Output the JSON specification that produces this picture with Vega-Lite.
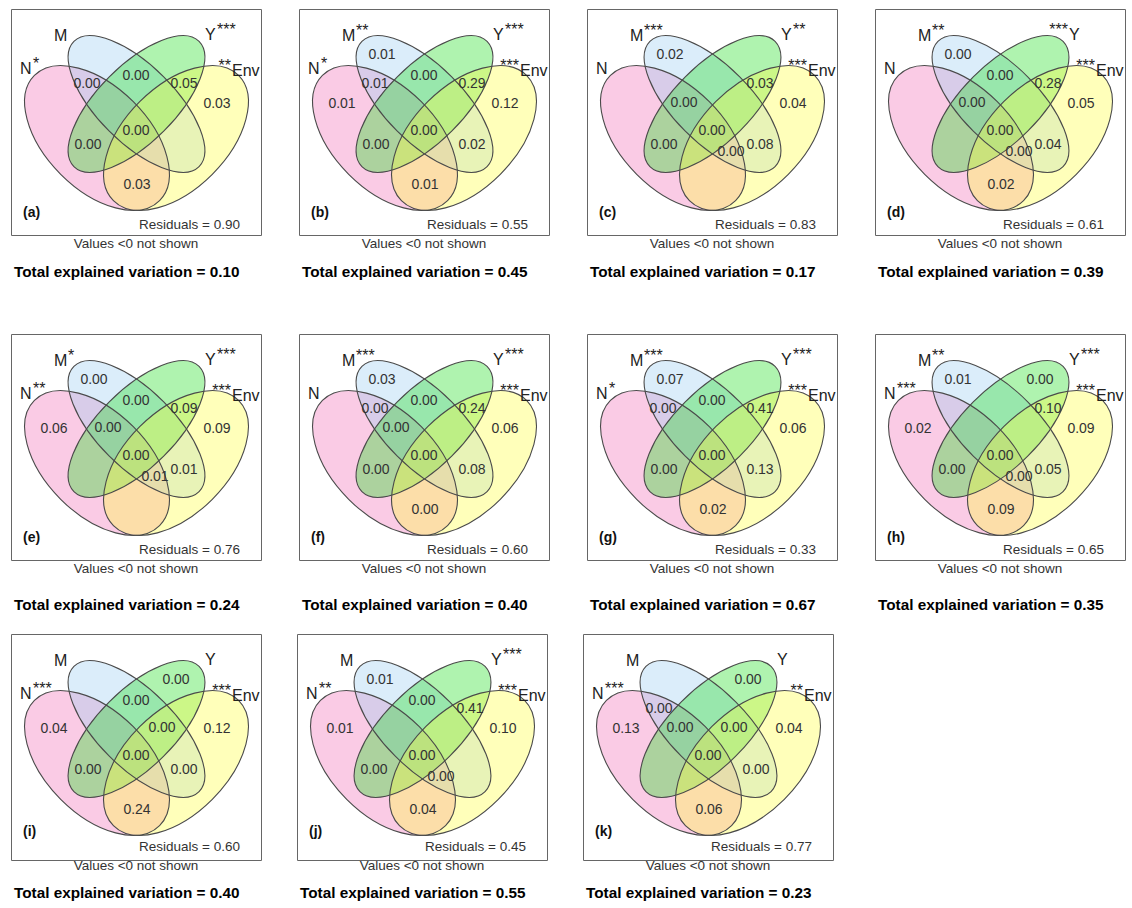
{
"$schema": "https://vega.github.io/schema/vega-lite/v6.json",
"padding": {"left": 10, "top": 8, "right": 0, "bottom": 0},
"autosize": {"type": "pad"},
"background": "white",
"config": {"view": {"stroke": "#666666", "strokeWidth": 1}, "axis": {"disable": true}, "font": "Liberation Sans", "text": {"font": "Liberation Sans"}},
"datasets": {
"regionLayout": [
{"region":"N","x":43,"y":95},{"region":"M","x":83,"y":46},{"region":"Y","x":165,"y":46},{"region":"Env","x":206,"y":95},
{"region":"N&M","x":76,"y":75},{"region":"M&Y","x":125,"y":67},{"region":"Y&Env","x":173,"y":75},{"region":"N&Y","x":77,"y":136},
{"region":"M&Env","x":173,"y":136},{"region":"N&Env","x":126,"y":176},{"region":"N&M&Y","x":97,"y":94},{"region":"M&Y&Env","x":151,"y":94},
{"region":"N&M&Env","x":144,"y":143},{"region":"N&Y&Env","x":107,"y":143},{"region":"N&M&Y&Env","x":125,"y":122}],
"setLayout": [
{"set":"N","x":86,"y":129,"lx0":9,"lx1":21,"ly":65},
{"set":"M","x":125.5,"y":95,"lx0":43,"lx1":56,"ly":32},
{"set":"Y","x":125.5,"y":95,"lx0":194,"lx1":205,"ly":31},
{"set":"Env","x":165,"y":129,"lx0":221,"lx1":249,"ly":67}],
"textLayout": [
{"kind":"tag","x":12,"y":204},{"kind":"resid","x":229,"y":216},{"kind":"note","x":125,"y":235},{"kind":"total","x":3,"y":265}],
"rows": [
{"panel":"a","kind":"set","set":"N","stars":"*","side":"post"},
{"panel":"a","kind":"set","set":"M","stars":"","side":"post"},
{"panel":"a","kind":"set","set":"Y","stars":"***","side":"post"},
{"panel":"a","kind":"set","set":"Env","stars":"**","side":"pre"},
{"panel":"b","kind":"set","set":"N","stars":"*","side":"post"},
{"panel":"b","kind":"set","set":"M","stars":"**","side":"post"},
{"panel":"b","kind":"set","set":"Y","stars":"***","side":"post"},
{"panel":"b","kind":"set","set":"Env","stars":"***","side":"pre"},
{"panel":"c","kind":"set","set":"N","stars":"","side":"post"},
{"panel":"c","kind":"set","set":"M","stars":"***","side":"post"},
{"panel":"c","kind":"set","set":"Y","stars":"**","side":"post"},
{"panel":"c","kind":"set","set":"Env","stars":"***","side":"pre"},
{"panel":"d","kind":"set","set":"N","stars":"","side":"post"},
{"panel":"d","kind":"set","set":"M","stars":"**","side":"post"},
{"panel":"d","kind":"set","set":"Y","stars":"***","side":"pre"},
{"panel":"d","kind":"set","set":"Env","stars":"***","side":"pre"},
{"panel":"e","kind":"set","set":"N","stars":"**","side":"post"},
{"panel":"e","kind":"set","set":"M","stars":"*","side":"post"},
{"panel":"e","kind":"set","set":"Y","stars":"***","side":"post"},
{"panel":"e","kind":"set","set":"Env","stars":"***","side":"pre"},
{"panel":"f","kind":"set","set":"N","stars":"","side":"post"},
{"panel":"f","kind":"set","set":"M","stars":"***","side":"post"},
{"panel":"f","kind":"set","set":"Y","stars":"***","side":"post"},
{"panel":"f","kind":"set","set":"Env","stars":"***","side":"pre"},
{"panel":"g","kind":"set","set":"N","stars":"*","side":"post"},
{"panel":"g","kind":"set","set":"M","stars":"***","side":"post"},
{"panel":"g","kind":"set","set":"Y","stars":"***","side":"post"},
{"panel":"g","kind":"set","set":"Env","stars":"***","side":"pre"},
{"panel":"h","kind":"set","set":"N","stars":"***","side":"post"},
{"panel":"h","kind":"set","set":"M","stars":"**","side":"post"},
{"panel":"h","kind":"set","set":"Y","stars":"***","side":"post"},
{"panel":"h","kind":"set","set":"Env","stars":"***","side":"pre"},
{"panel":"i","kind":"set","set":"N","stars":"***","side":"post"},
{"panel":"i","kind":"set","set":"M","stars":"","side":"post"},
{"panel":"i","kind":"set","set":"Y","stars":"","side":"post"},
{"panel":"i","kind":"set","set":"Env","stars":"***","side":"pre"},
{"panel":"j","kind":"set","set":"N","stars":"**","side":"post"},
{"panel":"j","kind":"set","set":"M","stars":"","side":"post"},
{"panel":"j","kind":"set","set":"Y","stars":"***","side":"post"},
{"panel":"j","kind":"set","set":"Env","stars":"***","side":"pre"},
{"panel":"k","kind":"set","set":"N","stars":"***","side":"post"},
{"panel":"k","kind":"set","set":"M","stars":"","side":"post"},
{"panel":"k","kind":"set","set":"Y","stars":"","side":"post"},
{"panel":"k","kind":"set","set":"Env","stars":"**","side":"pre"},

{"panel":"a","kind":"part","region":"N&M","value":0.00},
{"panel":"a","kind":"part","region":"M&Y","value":0.00},
{"panel":"a","kind":"part","region":"Y&Env","value":0.05},
{"panel":"a","kind":"part","region":"Env","value":0.03},
{"panel":"a","kind":"part","region":"N&M&Y&Env","value":0.00},
{"panel":"a","kind":"part","region":"N&Y","value":0.00},
{"panel":"a","kind":"part","region":"N&Env","value":0.03},

{"panel":"b","kind":"part","region":"M","value":0.01},
{"panel":"b","kind":"part","region":"N","value":0.01},
{"panel":"b","kind":"part","region":"N&M","value":0.01},
{"panel":"b","kind":"part","region":"M&Y","value":0.00},
{"panel":"b","kind":"part","region":"Y&Env","value":0.29},
{"panel":"b","kind":"part","region":"Env","value":0.12},
{"panel":"b","kind":"part","region":"N&M&Y&Env","value":0.00},
{"panel":"b","kind":"part","region":"N&Y","value":0.00},
{"panel":"b","kind":"part","region":"M&Env","value":0.02},
{"panel":"b","kind":"part","region":"N&Env","value":0.01},

{"panel":"c","kind":"part","region":"M","value":0.02},
{"panel":"c","kind":"part","region":"Y&Env","value":0.03},
{"panel":"c","kind":"part","region":"N&M&Y","value":0.00},
{"panel":"c","kind":"part","region":"Env","value":0.04},
{"panel":"c","kind":"part","region":"N&M&Y&Env","value":0.00},
{"panel":"c","kind":"part","region":"N&Y","value":0.00},
{"panel":"c","kind":"part","region":"N&M&Env","value":0.00},
{"panel":"c","kind":"part","region":"M&Env","value":0.08},

{"panel":"d","kind":"part","region":"M","value":0.00},
{"panel":"d","kind":"part","region":"M&Y","value":0.00},
{"panel":"d","kind":"part","region":"Y&Env","value":0.28},
{"panel":"d","kind":"part","region":"N&M&Y","value":0.00},
{"panel":"d","kind":"part","region":"Env","value":0.05},
{"panel":"d","kind":"part","region":"N&M&Y&Env","value":0.00},
{"panel":"d","kind":"part","region":"N&M&Env","value":0.00},
{"panel":"d","kind":"part","region":"M&Env","value":0.04},
{"panel":"d","kind":"part","region":"N&Env","value":0.02},

{"panel":"e","kind":"part","region":"M","value":0.00},
{"panel":"e","kind":"part","region":"N","value":0.06},
{"panel":"e","kind":"part","region":"M&Y","value":0.00},
{"panel":"e","kind":"part","region":"Y&Env","value":0.09},
{"panel":"e","kind":"part","region":"N&M&Y","value":0.00},
{"panel":"e","kind":"part","region":"Env","value":0.09},
{"panel":"e","kind":"part","region":"N&M&Y&Env","value":0.00},
{"panel":"e","kind":"part","region":"N&M&Env","value":0.01},
{"panel":"e","kind":"part","region":"M&Env","value":0.01},

{"panel":"f","kind":"part","region":"M","value":0.03},
{"panel":"f","kind":"part","region":"N&M","value":0.00},
{"panel":"f","kind":"part","region":"M&Y","value":0.00},
{"panel":"f","kind":"part","region":"Y&Env","value":0.24},
{"panel":"f","kind":"part","region":"N&M&Y","value":0.00},
{"panel":"f","kind":"part","region":"Env","value":0.06},
{"panel":"f","kind":"part","region":"N&M&Y&Env","value":0.00},
{"panel":"f","kind":"part","region":"N&Y","value":0.00},
{"panel":"f","kind":"part","region":"M&Env","value":0.08},
{"panel":"f","kind":"part","region":"N&Env","value":0.00},

{"panel":"g","kind":"part","region":"M","value":0.07},
{"panel":"g","kind":"part","region":"N&M","value":0.00},
{"panel":"g","kind":"part","region":"M&Y","value":0.00},
{"panel":"g","kind":"part","region":"Y&Env","value":0.41},
{"panel":"g","kind":"part","region":"Env","value":0.06},
{"panel":"g","kind":"part","region":"N&M&Y&Env","value":0.00},
{"panel":"g","kind":"part","region":"N&Y","value":0.00},
{"panel":"g","kind":"part","region":"M&Env","value":0.13},
{"panel":"g","kind":"part","region":"N&Env","value":0.02},

{"panel":"h","kind":"part","region":"M","value":0.01},
{"panel":"h","kind":"part","region":"Y","value":0.00},
{"panel":"h","kind":"part","region":"N","value":0.02},
{"panel":"h","kind":"part","region":"Y&Env","value":0.10},
{"panel":"h","kind":"part","region":"Env","value":0.09},
{"panel":"h","kind":"part","region":"N&M&Y&Env","value":0.00},
{"panel":"h","kind":"part","region":"N&Y","value":0.00},
{"panel":"h","kind":"part","region":"N&M&Env","value":0.00},
{"panel":"h","kind":"part","region":"M&Env","value":0.05},
{"panel":"h","kind":"part","region":"N&Env","value":0.09},

{"panel":"i","kind":"part","region":"Y","value":0.00},
{"panel":"i","kind":"part","region":"M&Y","value":0.00},
{"panel":"i","kind":"part","region":"N","value":0.04},
{"panel":"i","kind":"part","region":"M&Y&Env","value":0.00},
{"panel":"i","kind":"part","region":"Env","value":0.12},
{"panel":"i","kind":"part","region":"N&M&Y&Env","value":0.00},
{"panel":"i","kind":"part","region":"N&Y","value":0.00},
{"panel":"i","kind":"part","region":"M&Env","value":0.00},
{"panel":"i","kind":"part","region":"N&Env","value":0.24},

{"panel":"j","kind":"part","region":"M","value":0.01},
{"panel":"j","kind":"part","region":"M&Y","value":0.00},
{"panel":"j","kind":"part","region":"Y&Env","value":0.41},
{"panel":"j","kind":"part","region":"N","value":0.01},
{"panel":"j","kind":"part","region":"Env","value":0.10},
{"panel":"j","kind":"part","region":"N&M&Y&Env","value":0.00},
{"panel":"j","kind":"part","region":"N&Y","value":0.00},
{"panel":"j","kind":"part","region":"N&M&Env","value":0.00},
{"panel":"j","kind":"part","region":"N&Env","value":0.04},

{"panel":"k","kind":"part","region":"Y","value":0.00},
{"panel":"k","kind":"part","region":"N&M","value":0.00},
{"panel":"k","kind":"part","region":"N","value":0.13},
{"panel":"k","kind":"part","region":"N&M&Y","value":0.00},
{"panel":"k","kind":"part","region":"M&Y&Env","value":0.00},
{"panel":"k","kind":"part","region":"Env","value":0.04},
{"panel":"k","kind":"part","region":"N&M&Y&Env","value":0.00},
{"panel":"k","kind":"part","region":"M&Env","value":0.00},
{"panel":"k","kind":"part","region":"N&Env","value":0.06},

{"panel":"a","kind":"tag","text":"(a)"},{"panel":"a","kind":"resid","text":"Residuals = 0.90"},{"panel":"a","kind":"note","text":"Values <0 not shown"},{"panel":"a","kind":"total","text":"Total explained variation = 0.10"},
{"panel":"b","kind":"tag","text":"(b)"},{"panel":"b","kind":"resid","text":"Residuals = 0.55"},{"panel":"b","kind":"note","text":"Values <0 not shown"},{"panel":"b","kind":"total","text":"Total explained variation = 0.45"},
{"panel":"c","kind":"tag","text":"(c)"},{"panel":"c","kind":"resid","text":"Residuals = 0.83"},{"panel":"c","kind":"note","text":"Values <0 not shown"},{"panel":"c","kind":"total","text":"Total explained variation = 0.17"},
{"panel":"d","kind":"tag","text":"(d)"},{"panel":"d","kind":"resid","text":"Residuals = 0.61"},{"panel":"d","kind":"note","text":"Values <0 not shown"},{"panel":"d","kind":"total","text":"Total explained variation = 0.39"},
{"panel":"e","kind":"tag","text":"(e)"},{"panel":"e","kind":"resid","text":"Residuals = 0.76"},{"panel":"e","kind":"note","text":"Values <0 not shown"},{"panel":"e","kind":"total","text":"Total explained variation = 0.24"},
{"panel":"f","kind":"tag","text":"(f)"},{"panel":"f","kind":"resid","text":"Residuals = 0.60"},{"panel":"f","kind":"note","text":"Values <0 not shown"},{"panel":"f","kind":"total","text":"Total explained variation = 0.40"},
{"panel":"g","kind":"tag","text":"(g)"},{"panel":"g","kind":"resid","text":"Residuals = 0.33"},{"panel":"g","kind":"note","text":"Values <0 not shown"},{"panel":"g","kind":"total","text":"Total explained variation = 0.67"},
{"panel":"h","kind":"tag","text":"(h)"},{"panel":"h","kind":"resid","text":"Residuals = 0.65"},{"panel":"h","kind":"note","text":"Values <0 not shown"},{"panel":"h","kind":"total","text":"Total explained variation = 0.35"},
{"panel":"i","kind":"tag","text":"(i)"},{"panel":"i","kind":"resid","text":"Residuals = 0.60"},{"panel":"i","kind":"note","text":"Values <0 not shown"},{"panel":"i","kind":"total","text":"Total explained variation = 0.40"},
{"panel":"j","kind":"tag","text":"(j)"},{"panel":"j","kind":"resid","text":"Residuals = 0.45"},{"panel":"j","kind":"note","text":"Values <0 not shown"},{"panel":"j","kind":"total","text":"Total explained variation = 0.55"},
{"panel":"k","kind":"tag","text":"(k)"},{"panel":"k","kind":"resid","text":"Residuals = 0.77"},{"panel":"k","kind":"note","text":"Values <0 not shown"},{"panel":"k","kind":"total","text":"Total explained variation = 0.23"}
]
},
"bounds": "flush",
"spacing": 325,
"vconcat": [
{
"data": {"name": "rows"},
"transform": [
{"filter": {"field": "panel", "oneOf": ["a","b","c","d"]}},
{"lookup": "region", "from": {"data": {"name": "regionLayout"}, "key": "region", "fields": ["x","y"]}, "as": ["rx","ry"]},
{"lookup": "set", "from": {"data": {"name": "setLayout"}, "key": "set", "fields": ["x","y","lx0","lx1","ly"]}, "as": ["sx","sy","lx0","lx1","ly"]},
{"lookup": "kind", "from": {"data": {"name": "textLayout"}, "key": "kind", "fields": ["x","y"]}, "as": ["tx","ty"]}
],
"facet": {"column": {"field": "panel", "type": "nominal", "header": null}},
"spacing": {"column": 38},
"bounds": "flush",
"spec": {
"width": 250, "height": 226,
"layer": [
{"transform": [{"filter": {"field": "set", "oneOf": ["N","M"]}}],
 "mark": {"type": "point", "filled": true, "angle": 45, "size": 31329, "fillOpacity": 0.36, "opacity": 1, "strokeWidth": 0},
 "encoding": {
  "x": {"field": "sx", "type": "quantitative", "scale": {"domain": [0,250], "nice": false, "zero": false}},
  "y": {"field": "sy", "type": "quantitative", "scale": {"domain": [0,226], "nice": false, "zero": false, "reverse": true}},
  "shape": {"field": "set", "type": "nominal", "legend": null, "scale": {"domain": ["N","M","Y","Env"], "range": ["M-1,0C-1,-0.32,-0.552,-0.58,0,-0.58C0.552,-0.58,1,-0.32,1,0C1,0.32,0.552,0.58,0,0.58C-0.552,0.58,-1,0.32,-1,0Z","M-1,0C-1,-0.24,-0.552,-0.435,0,-0.435C0.552,-0.435,1,-0.24,1,0C1,0.24,0.552,0.435,0,0.435C-0.552,0.435,-1,0.24,-1,0Z","M-1,0C-1,-0.24,-0.552,-0.435,0,-0.435C0.552,-0.435,1,-0.24,1,0C1,0.24,0.552,0.435,0,0.435C-0.552,0.435,-1,0.24,-1,0Z","M-1,0C-1,-0.32,-0.552,-0.58,0,-0.58C0.552,-0.58,1,-0.32,1,0C1,0.32,0.552,0.58,0,0.58C-0.552,0.58,-1,0.32,-1,0Z"]}},
  "fill": {"field": "set", "type": "nominal", "legend": null, "scale": {"domain": ["N","M","Y","Env"], "range": ["#F070B8","#9BCEF1","#22DD22","#FFFF40"]}}
 }},
{"transform": [{"filter": {"field": "set", "oneOf": ["Y","Env"]}}],
 "mark": {"type": "point", "filled": true, "angle": -45, "size": 31329, "fillOpacity": 0.36, "opacity": 1, "strokeWidth": 0},
 "encoding": {
  "x": {"field": "sx", "type": "quantitative"},
  "y": {"field": "sy", "type": "quantitative"},
  "shape": {"field": "set", "type": "nominal", "legend": null},
  "fill": {"field": "set", "type": "nominal", "legend": null}
 }},
{"transform": [{"filter": {"field": "set", "oneOf": ["N","M"]}}],
 "mark": {"type": "point", "filled": false, "angle": 45, "size": 31329, "stroke": "#4a4a4a", "strokeWidth": 1.1, "opacity": 1},
 "encoding": {
  "x": {"field": "sx", "type": "quantitative"},
  "y": {"field": "sy", "type": "quantitative"},
  "shape": {"field": "set", "type": "nominal", "legend": null}
 }},
{"transform": [{"filter": {"field": "set", "oneOf": ["Y","Env"]}}],
 "mark": {"type": "point", "filled": false, "angle": -45, "size": 31329, "stroke": "#4a4a4a", "strokeWidth": 1.1, "opacity": 1},
 "encoding": {
  "x": {"field": "sx", "type": "quantitative"},
  "y": {"field": "sy", "type": "quantitative"},
  "shape": {"field": "set", "type": "nominal", "legend": null}
 }},
{"transform": [{"filter": {"field": "kind", "equal": "part"}}],
 "mark": {"type": "text", "fontSize": 14, "fill": "#333333", "align": "center", "baseline": "middle"},
 "encoding": {"x": {"field": "rx", "type": "quantitative"}, "y": {"field": "ry", "type": "quantitative"}, "text": {"field": "value", "type": "quantitative", "format": ".2f"}}},
{"transform": [{"filter": {"field": "kind", "equal": "set"}}],
 "mark": {"type": "text", "fontSize": 16, "fill": "#222222", "align": "left", "baseline": "alphabetic"},
 "encoding": {"x": {"field": "lx0", "type": "quantitative"}, "y": {"field": "ly", "type": "quantitative"}, "text": {"field": "set", "type": "nominal"}}},
{"transform": [{"filter": {"field": "side", "equal": "post"}}],
 "mark": {"type": "text", "fontSize": 16, "fill": "#222222", "align": "left", "baseline": "alphabetic", "dx": 1, "dy": -5},
 "encoding": {"x": {"field": "lx1", "type": "quantitative"}, "y": {"field": "ly", "type": "quantitative"}, "text": {"field": "stars", "type": "nominal"}}},
{"transform": [{"filter": {"field": "side", "equal": "pre"}}],
 "mark": {"type": "text", "fontSize": 16, "fill": "#222222", "align": "right", "baseline": "alphabetic", "dx": -1, "dy": -5},
 "encoding": {"x": {"field": "lx0", "type": "quantitative"}, "y": {"field": "ly", "type": "quantitative"}, "text": {"field": "stars", "type": "nominal"}}},
{"transform": [{"filter": {"field": "kind", "equal": "tag"}}],
 "mark": {"type": "text", "fontSize": 14, "fontWeight": "bold", "fill": "#111111", "align": "left", "baseline": "middle"},
 "encoding": {"x": {"field": "tx", "type": "quantitative"}, "y": {"field": "ty", "type": "quantitative"}, "text": {"field": "text", "type": "nominal"}}},
{"transform": [{"filter": {"field": "kind", "equal": "resid"}}],
 "mark": {"type": "text", "fontSize": 13.5, "fill": "#333333", "align": "right", "baseline": "middle"},
 "encoding": {"x": {"field": "tx", "type": "quantitative"}, "y": {"field": "ty", "type": "quantitative"}, "text": {"field": "text", "type": "nominal"}}},
{"transform": [{"filter": {"field": "kind", "equal": "note"}}],
 "mark": {"type": "text", "fontSize": 13.5, "fill": "#333333", "align": "center", "baseline": "middle"},
 "encoding": {"x": {"field": "tx", "type": "quantitative"}, "y": {"field": "ty", "type": "quantitative"}, "text": {"field": "text", "type": "nominal"}}},
{"transform": [{"filter": {"field": "kind", "equal": "total"}}],
 "mark": {"type": "text", "fontSize": 15.3, "fontWeight": "bold", "fill": "#000000", "align": "left", "baseline": "middle", "dy": -2},
 "encoding": {"x": {"field": "tx", "type": "quantitative"}, "y": {"field": "ty", "type": "quantitative"}, "text": {"field": "text", "type": "nominal"}}}
]
}
},
{
"bounds": "flush",
"spacing": 300,
"vconcat": [
{
"data": {"name": "rows"},
"transform": [
{"filter": {"field": "panel", "oneOf": ["e","f","g","h"]}},
{"lookup": "region", "from": {"data": {"name": "regionLayout"}, "key": "region", "fields": ["x","y"]}, "as": ["rx","ry"]},
{"lookup": "set", "from": {"data": {"name": "setLayout"}, "key": "set", "fields": ["x","y","lx0","lx1","ly"]}, "as": ["sx","sy","lx0","lx1","ly"]},
{"lookup": "kind", "from": {"data": {"name": "textLayout"}, "key": "kind", "fields": ["x","y"]}, "as": ["tx","ty"]}
],
"facet": {"column": {"field": "panel", "type": "nominal", "header": null}},
"spacing": {"column": 38},
"bounds": "flush",
"spec": {
"width": 250, "height": 226,
"layer": [
{"transform": [{"filter": {"field": "set", "oneOf": ["N","M"]}}],
 "mark": {"type": "point", "filled": true, "angle": 45, "size": 31329, "fillOpacity": 0.36, "opacity": 1, "strokeWidth": 0},
 "encoding": {
  "x": {"field": "sx", "type": "quantitative", "scale": {"domain": [0,250], "nice": false, "zero": false}},
  "y": {"field": "sy", "type": "quantitative", "scale": {"domain": [0,226], "nice": false, "zero": false, "reverse": true}},
  "shape": {"field": "set", "type": "nominal", "legend": null, "scale": {"domain": ["N","M","Y","Env"], "range": ["M-1,0C-1,-0.32,-0.552,-0.58,0,-0.58C0.552,-0.58,1,-0.32,1,0C1,0.32,0.552,0.58,0,0.58C-0.552,0.58,-1,0.32,-1,0Z","M-1,0C-1,-0.24,-0.552,-0.435,0,-0.435C0.552,-0.435,1,-0.24,1,0C1,0.24,0.552,0.435,0,0.435C-0.552,0.435,-1,0.24,-1,0Z","M-1,0C-1,-0.24,-0.552,-0.435,0,-0.435C0.552,-0.435,1,-0.24,1,0C1,0.24,0.552,0.435,0,0.435C-0.552,0.435,-1,0.24,-1,0Z","M-1,0C-1,-0.32,-0.552,-0.58,0,-0.58C0.552,-0.58,1,-0.32,1,0C1,0.32,0.552,0.58,0,0.58C-0.552,0.58,-1,0.32,-1,0Z"]}},
  "fill": {"field": "set", "type": "nominal", "legend": null, "scale": {"domain": ["N","M","Y","Env"], "range": ["#F070B8","#9BCEF1","#22DD22","#FFFF40"]}}
 }},
{"transform": [{"filter": {"field": "set", "oneOf": ["Y","Env"]}}],
 "mark": {"type": "point", "filled": true, "angle": -45, "size": 31329, "fillOpacity": 0.36, "opacity": 1, "strokeWidth": 0},
 "encoding": {
  "x": {"field": "sx", "type": "quantitative"},
  "y": {"field": "sy", "type": "quantitative"},
  "shape": {"field": "set", "type": "nominal", "legend": null},
  "fill": {"field": "set", "type": "nominal", "legend": null}
 }},
{"transform": [{"filter": {"field": "set", "oneOf": ["N","M"]}}],
 "mark": {"type": "point", "filled": false, "angle": 45, "size": 31329, "stroke": "#4a4a4a", "strokeWidth": 1.1, "opacity": 1},
 "encoding": {
  "x": {"field": "sx", "type": "quantitative"},
  "y": {"field": "sy", "type": "quantitative"},
  "shape": {"field": "set", "type": "nominal", "legend": null}
 }},
{"transform": [{"filter": {"field": "set", "oneOf": ["Y","Env"]}}],
 "mark": {"type": "point", "filled": false, "angle": -45, "size": 31329, "stroke": "#4a4a4a", "strokeWidth": 1.1, "opacity": 1},
 "encoding": {
  "x": {"field": "sx", "type": "quantitative"},
  "y": {"field": "sy", "type": "quantitative"},
  "shape": {"field": "set", "type": "nominal", "legend": null}
 }},
{"transform": [{"filter": {"field": "kind", "equal": "part"}}],
 "mark": {"type": "text", "fontSize": 14, "fill": "#333333", "align": "center", "baseline": "middle"},
 "encoding": {"x": {"field": "rx", "type": "quantitative"}, "y": {"field": "ry", "type": "quantitative"}, "text": {"field": "value", "type": "quantitative", "format": ".2f"}}},
{"transform": [{"filter": {"field": "kind", "equal": "set"}}],
 "mark": {"type": "text", "fontSize": 16, "fill": "#222222", "align": "left", "baseline": "alphabetic"},
 "encoding": {"x": {"field": "lx0", "type": "quantitative"}, "y": {"field": "ly", "type": "quantitative"}, "text": {"field": "set", "type": "nominal"}}},
{"transform": [{"filter": {"field": "side", "equal": "post"}}],
 "mark": {"type": "text", "fontSize": 16, "fill": "#222222", "align": "left", "baseline": "alphabetic", "dx": 1, "dy": -5},
 "encoding": {"x": {"field": "lx1", "type": "quantitative"}, "y": {"field": "ly", "type": "quantitative"}, "text": {"field": "stars", "type": "nominal"}}},
{"transform": [{"filter": {"field": "side", "equal": "pre"}}],
 "mark": {"type": "text", "fontSize": 16, "fill": "#222222", "align": "right", "baseline": "alphabetic", "dx": -1, "dy": -5},
 "encoding": {"x": {"field": "lx0", "type": "quantitative"}, "y": {"field": "ly", "type": "quantitative"}, "text": {"field": "stars", "type": "nominal"}}},
{"transform": [{"filter": {"field": "kind", "equal": "tag"}}],
 "mark": {"type": "text", "fontSize": 14, "fontWeight": "bold", "fill": "#111111", "align": "left", "baseline": "middle"},
 "encoding": {"x": {"field": "tx", "type": "quantitative"}, "y": {"field": "ty", "type": "quantitative"}, "text": {"field": "text", "type": "nominal"}}},
{"transform": [{"filter": {"field": "kind", "equal": "resid"}}],
 "mark": {"type": "text", "fontSize": 13.5, "fill": "#333333", "align": "right", "baseline": "middle"},
 "encoding": {"x": {"field": "tx", "type": "quantitative"}, "y": {"field": "ty", "type": "quantitative"}, "text": {"field": "text", "type": "nominal"}}},
{"transform": [{"filter": {"field": "kind", "equal": "note"}}],
 "mark": {"type": "text", "fontSize": 13.5, "fill": "#333333", "align": "center", "baseline": "middle"},
 "encoding": {"x": {"field": "tx", "type": "quantitative"}, "y": {"field": "ty", "type": "quantitative"}, "text": {"field": "text", "type": "nominal"}}},
{"transform": [{"filter": {"field": "kind", "equal": "total"}}],
 "mark": {"type": "text", "fontSize": 15.3, "fontWeight": "bold", "fill": "#000000", "align": "left", "baseline": "middle", "dy": 6},
 "encoding": {"x": {"field": "tx", "type": "quantitative"}, "y": {"field": "ty", "type": "quantitative"}, "text": {"field": "text", "type": "nominal"}}}
]
}
},
{
"data": {"name": "rows"},
"transform": [
{"filter": {"field": "panel", "oneOf": ["i","j","k"]}},
{"lookup": "region", "from": {"data": {"name": "regionLayout"}, "key": "region", "fields": ["x","y"]}, "as": ["rx","ry"]},
{"lookup": "set", "from": {"data": {"name": "setLayout"}, "key": "set", "fields": ["x","y","lx0","lx1","ly"]}, "as": ["sx","sy","lx0","lx1","ly"]},
{"lookup": "kind", "from": {"data": {"name": "textLayout"}, "key": "kind", "fields": ["x","y"]}, "as": ["tx","ty"]}
],
"facet": {"column": {"field": "panel", "type": "nominal", "header": null}},
"spacing": {"column": 36},
"bounds": "flush",
"spec": {
"width": 250, "height": 226,
"layer": [
{"transform": [{"filter": {"field": "set", "oneOf": ["N","M"]}}],
 "mark": {"type": "point", "filled": true, "angle": 45, "size": 31329, "fillOpacity": 0.36, "opacity": 1, "strokeWidth": 0},
 "encoding": {
  "x": {"field": "sx", "type": "quantitative", "scale": {"domain": [0,250], "nice": false, "zero": false}},
  "y": {"field": "sy", "type": "quantitative", "scale": {"domain": [0,226], "nice": false, "zero": false, "reverse": true}},
  "shape": {"field": "set", "type": "nominal", "legend": null, "scale": {"domain": ["N","M","Y","Env"], "range": ["M-1,0C-1,-0.32,-0.552,-0.58,0,-0.58C0.552,-0.58,1,-0.32,1,0C1,0.32,0.552,0.58,0,0.58C-0.552,0.58,-1,0.32,-1,0Z","M-1,0C-1,-0.24,-0.552,-0.435,0,-0.435C0.552,-0.435,1,-0.24,1,0C1,0.24,0.552,0.435,0,0.435C-0.552,0.435,-1,0.24,-1,0Z","M-1,0C-1,-0.24,-0.552,-0.435,0,-0.435C0.552,-0.435,1,-0.24,1,0C1,0.24,0.552,0.435,0,0.435C-0.552,0.435,-1,0.24,-1,0Z","M-1,0C-1,-0.32,-0.552,-0.58,0,-0.58C0.552,-0.58,1,-0.32,1,0C1,0.32,0.552,0.58,0,0.58C-0.552,0.58,-1,0.32,-1,0Z"]}},
  "fill": {"field": "set", "type": "nominal", "legend": null, "scale": {"domain": ["N","M","Y","Env"], "range": ["#F070B8","#9BCEF1","#22DD22","#FFFF40"]}}
 }},
{"transform": [{"filter": {"field": "set", "oneOf": ["Y","Env"]}}],
 "mark": {"type": "point", "filled": true, "angle": -45, "size": 31329, "fillOpacity": 0.36, "opacity": 1, "strokeWidth": 0},
 "encoding": {
  "x": {"field": "sx", "type": "quantitative"},
  "y": {"field": "sy", "type": "quantitative"},
  "shape": {"field": "set", "type": "nominal", "legend": null},
  "fill": {"field": "set", "type": "nominal", "legend": null}
 }},
{"transform": [{"filter": {"field": "set", "oneOf": ["N","M"]}}],
 "mark": {"type": "point", "filled": false, "angle": 45, "size": 31329, "stroke": "#4a4a4a", "strokeWidth": 1.1, "opacity": 1},
 "encoding": {
  "x": {"field": "sx", "type": "quantitative"},
  "y": {"field": "sy", "type": "quantitative"},
  "shape": {"field": "set", "type": "nominal", "legend": null}
 }},
{"transform": [{"filter": {"field": "set", "oneOf": ["Y","Env"]}}],
 "mark": {"type": "point", "filled": false, "angle": -45, "size": 31329, "stroke": "#4a4a4a", "strokeWidth": 1.1, "opacity": 1},
 "encoding": {
  "x": {"field": "sx", "type": "quantitative"},
  "y": {"field": "sy", "type": "quantitative"},
  "shape": {"field": "set", "type": "nominal", "legend": null}
 }},
{"transform": [{"filter": {"field": "kind", "equal": "part"}}],
 "mark": {"type": "text", "fontSize": 14, "fill": "#333333", "align": "center", "baseline": "middle"},
 "encoding": {"x": {"field": "rx", "type": "quantitative"}, "y": {"field": "ry", "type": "quantitative"}, "text": {"field": "value", "type": "quantitative", "format": ".2f"}}},
{"transform": [{"filter": {"field": "kind", "equal": "set"}}],
 "mark": {"type": "text", "fontSize": 16, "fill": "#222222", "align": "left", "baseline": "alphabetic"},
 "encoding": {"x": {"field": "lx0", "type": "quantitative"}, "y": {"field": "ly", "type": "quantitative"}, "text": {"field": "set", "type": "nominal"}}},
{"transform": [{"filter": {"field": "side", "equal": "post"}}],
 "mark": {"type": "text", "fontSize": 16, "fill": "#222222", "align": "left", "baseline": "alphabetic", "dx": 1, "dy": -5},
 "encoding": {"x": {"field": "lx1", "type": "quantitative"}, "y": {"field": "ly", "type": "quantitative"}, "text": {"field": "stars", "type": "nominal"}}},
{"transform": [{"filter": {"field": "side", "equal": "pre"}}],
 "mark": {"type": "text", "fontSize": 16, "fill": "#222222", "align": "right", "baseline": "alphabetic", "dx": -1, "dy": -5},
 "encoding": {"x": {"field": "lx0", "type": "quantitative"}, "y": {"field": "ly", "type": "quantitative"}, "text": {"field": "stars", "type": "nominal"}}},
{"transform": [{"filter": {"field": "kind", "equal": "tag"}}],
 "mark": {"type": "text", "fontSize": 14, "fontWeight": "bold", "fill": "#111111", "align": "left", "baseline": "middle", "dy": -6},
 "encoding": {"x": {"field": "tx", "type": "quantitative"}, "y": {"field": "ty", "type": "quantitative"}, "text": {"field": "text", "type": "nominal"}}},
{"transform": [{"filter": {"field": "kind", "equal": "resid"}}],
 "mark": {"type": "text", "fontSize": 13.5, "fill": "#333333", "align": "right", "baseline": "middle", "dy": -3},
 "encoding": {"x": {"field": "tx", "type": "quantitative"}, "y": {"field": "ty", "type": "quantitative"}, "text": {"field": "text", "type": "nominal"}}},
{"transform": [{"filter": {"field": "kind", "equal": "note"}}],
 "mark": {"type": "text", "fontSize": 13.5, "fill": "#333333", "align": "center", "baseline": "middle", "dy": -3},
 "encoding": {"x": {"field": "tx", "type": "quantitative"}, "y": {"field": "ty", "type": "quantitative"}, "text": {"field": "text", "type": "nominal"}}},
{"transform": [{"filter": {"field": "kind", "equal": "total"}}],
 "mark": {"type": "text", "fontSize": 15.3, "fontWeight": "bold", "fill": "#000000", "align": "left", "baseline": "middle", "dy": -6},
 "encoding": {"x": {"field": "tx", "type": "quantitative"}, "y": {"field": "ty", "type": "quantitative"}, "text": {"field": "text", "type": "nominal"}}}
]
}
}
]
}
]
}
